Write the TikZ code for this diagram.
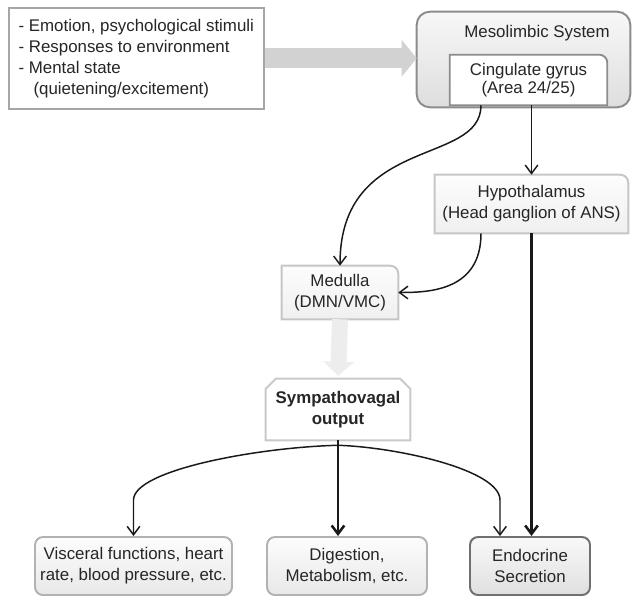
\documentclass[tikz,border=0pt]{standalone}
\usepackage{fontspec}
\setmainfont{Liberation Sans}
\usepackage{tikz}
\usetikzlibrary{arrows.meta, backgrounds}

\definecolor{ink}{HTML}{262626}
\definecolor{lineA}{HTML}{A6A6A6}
\definecolor{lineB}{HTML}{8C8C8C}
\definecolor{lineC}{HTML}{707070}

% outline with one rounded corner (top right)
\newcommand{\tabshape}[2]{%
  \path[#1] (#2.south west) -- (#2.north west) -- ([xshift=-0.2cm]#2.north east)
    arc[start angle=90, end angle=0, radius=0.2cm] -- (#2.south east) -- cycle;}

\begin{document}
\begin{tikzpicture}[
  font=\fontsize{12}{15}\selectfont, text=ink,
  lbl/.style={align=center, inner sep=0pt},
  inbox/.style={draw=lineA, line width=1.1pt, fill=white, align=left, inner sep=0pt},
  mesobox/.style={draw=lineB, line width=1.4pt, top color=gray!6, bottom color=gray!26},
  cingbox/.style={draw=lineB, line width=1.3pt, fill=white},
  greybox/.style={draw=gray!45, line width=1.4pt, top color=gray!2, bottom color=gray!12},
  sympbox/.style={draw=gray!42, line width=1.4pt, fill=white},
  outbox/.style={draw=gray!60, line width=1.4pt, rounded corners=0.2cm, top color=gray!2,
    bottom color=gray!18, minimum height=1.45cm, align=center},
  endobox/.style={outbox, draw=lineC, top color=gray!5, bottom color=gray!25},
  link/.style={draw=black!90, line width=1.05pt, -{Straight Barb[length=6pt, width=9pt]}},
  mainlink/.style={link, line width=1.8pt},
  bigarrow/.style={draw=gray!35, line width=0.5cm, -{Triangle[length=0.375cm, width=0.9cm]}},
  softarrow/.style={draw=gray!14, line width=0.4cm, shorten >=0.075cm,
    -{Triangle[length=0.35cm, width=0.75cm]}}
]
\useasboundingbox (0,0) rectangle (15.8,-14.9);

\node[inbox, anchor=north west, minimum width=6.375cm, minimum height=2.525cm]
  (input) at (0.2,-0.175) {- Emotion, psychological stimuli\\- Responses to environment\\
  - Mental state\\\hspace*{0.375cm}(quietening/excitement)};

\node[lbl, minimum width=5.325cm, minimum height=2.375cm] (meso) at (13.0875,-1.4875) {};
\node[lbl] (mesolabel) at (13.425,-0.825) {Mesolimbic System};
\node[lbl, minimum width=3.925cm, minimum height=1.25cm, font=\fontsize{12}{13}\selectfont]
  (cing) at (13.2125,-2.0) {Cingulate gyrus\\(Area 24/25)};
\node[lbl, minimum width=4.825cm, minimum height=1.45cm] (hypo) at (13.2875,-5.1)
  {Hypothalamus\\(Head ganglion of ANS)};
\node[lbl, minimum width=2.9cm, minimum height=1.325cm] (medulla) at (8.5,-7.3125)
  {Medulla\\(DMN/VMC)};
\node[lbl, minimum width=3.6cm, minimum height=1.525cm, font=\fontsize{12}{15}\selectfont\bfseries]
  (symp) at (8.45,-10.2375) {Sympathovagal\\output};

\node[outbox, minimum width=4.925cm] (visc) at (3.3375,-14.15)
  {Visceral functions, heart\\rate, blood pressure, etc.};
\node[outbox, minimum width=4.0cm] (dige) at (8.675,-14.15) {Digestion,\\Metabolism, etc.};
\node[endobox, minimum width=3.0cm] (endo) at (13.25,-14.15) {Endocrine\\Secretion};

\begin{scope}[on background layer]
  \path[mesobox, rounded corners=0.325cm] (meso.south west) rectangle (meso.north east);
  \tabshape{cingbox}{cing}
  \tabshape{greybox}{hypo}
  \tabshape{greybox}{medulla}
  \path[sympbox] (symp.south west) -- ([yshift=-0.25cm]symp.north west)
    -- ([xshift=0.25cm]symp.north west) -- ([xshift=-0.25cm]symp.north east)
    -- ([yshift=-0.25cm]symp.north east) -- (symp.south east) -- cycle;
\end{scope}

\draw[bigarrow] (input.east) -- (input.east -| meso.west);
\draw[link] ([xshift=-1.1875cm]cing.south) .. controls +(0,-1.525) and +(0,3.275) .. (medulla.north);
\draw[link] (cing.south -| hypo.north) -- (hypo.north);
\draw[link] ([xshift=-1.2625cm]hypo.south) .. controls +(0,-1.425) and +(0.8,0) .. (medulla.east);
\draw[softarrow] (medulla.south) -- (symp.north);
\draw[mainlink] (symp.south) -- (symp.south |- dige.north);
\draw[mainlink] (hypo.south) -- (hypo.south |- endo.north);

\coordinate (split) at ([yshift=-0.125cm]symp.south);
\coordinate (endoin) at ([xshift=-0.75cm]endo.north);
\draw[link] (split) .. controls +(-2.0,-0.05) and +(0,0.75) .. (visc.north |- 0,-12.5) -- (visc.north);
\draw[link] (split) .. controls +(1.5,-0.05) and +(0,0.75) .. (endoin |- 0,-12.5) -- (endoin);
\end{tikzpicture}
\end{document}
